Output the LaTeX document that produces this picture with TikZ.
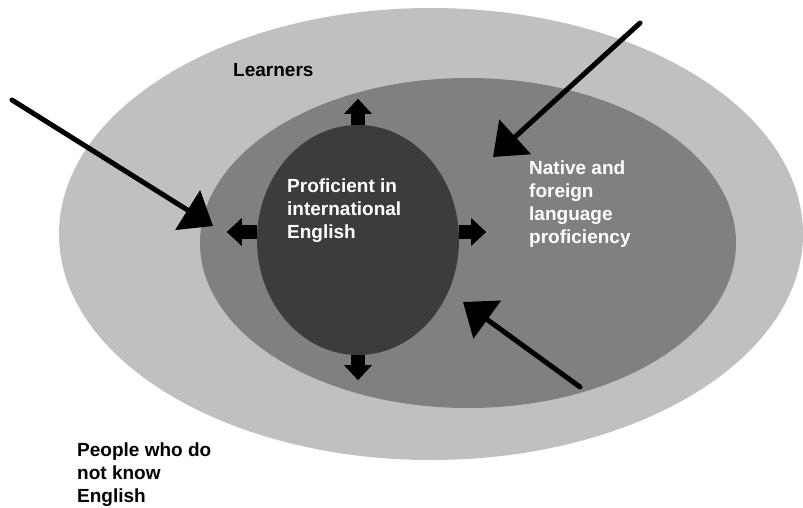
\documentclass[tikz,border=0pt]{standalone}
\usepackage{fontspec}
\setmainfont{Liberation Sans}
\usetikzlibrary{shapes.geometric}
\usetikzlibrary{arrows.meta}
\usetikzlibrary{positioning,calc}
\definecolor{outergray}{HTML}{C0C0C0}
\definecolor{midgray}{HTML}{808080}
\definecolor{innergray}{HTML}{3C3C3C}
\tikzset{standard edge/.style={line width=5pt,line cap=round,
 -{Triangle[length=30pt,width=46pt]}},
 push edge/.style={line width=14pt,-{Triangle[length=15pt,width=27pt]}}}

\begin{document}
\begin{tikzpicture}[x=1pt,y=-1pt,
 ring/.style={ellipse,inner sep=0pt,draw=none},
 lbl/.style={align=left,inner sep=0pt,anchor=base west,
  font=\bfseries\fontsize{19}{23}\selectfont}]
\useasboundingbox (0,0) rectangle (803,507);

\node[ring,fill=outergray,minimum width=744pt,minimum height=452pt] (OE) at (431,234) {};
\node[ring,fill=midgray,minimum width=536pt,minimum height=330pt] (ME) at (468,243) {};
\node[ring,fill=innergray,minimum width=202pt,minimum height=230pt] (PI) at (358,240) {};

% base of a multi-line label = baseline of its last line
\node[lbl] (LR) at (233,76) {Learners};
\node[lbl,text=white] (PT) at (287,238) {Proficient in\\international\\English};
\node[lbl,text=white] (NF) at (529,243) {Native and\\foreign\\language\\proficiency};
\node[lbl] (PN) at (77,502) {People who do\\not know\\English};

\coordinate (PW) at ([yshift=8pt]PI.west);
\coordinate (PE) at ([yshift=8pt]PI.east);
\coordinate[above=26pt of PI.north] (PNt);
\coordinate[below=25pt of PI.south] (PSt);
\coordinate[left=30pt of PW] (PWt);
\coordinate[right=27pt of PE] (PEt);

\coordinate (S1) at (12,100);
\coordinate (T1) at (213,226);
\coordinate (S2) at (640,23);
\coordinate (T2) at (493,157);
\coordinate (S3) at (580,387);
\coordinate (T3) at (463,302);

\draw (PI.north) edge[push edge] (PNt)
(PI.south) edge[push edge] (PSt)
(PW) edge[push edge] (PWt)
(PE) edge[push edge] (PEt)
(S1) edge[standard edge] (T1)
(S2) edge[standard edge] (T2)
(S3) edge[standard edge] (T3)
;
\end{tikzpicture}
\end{document}
